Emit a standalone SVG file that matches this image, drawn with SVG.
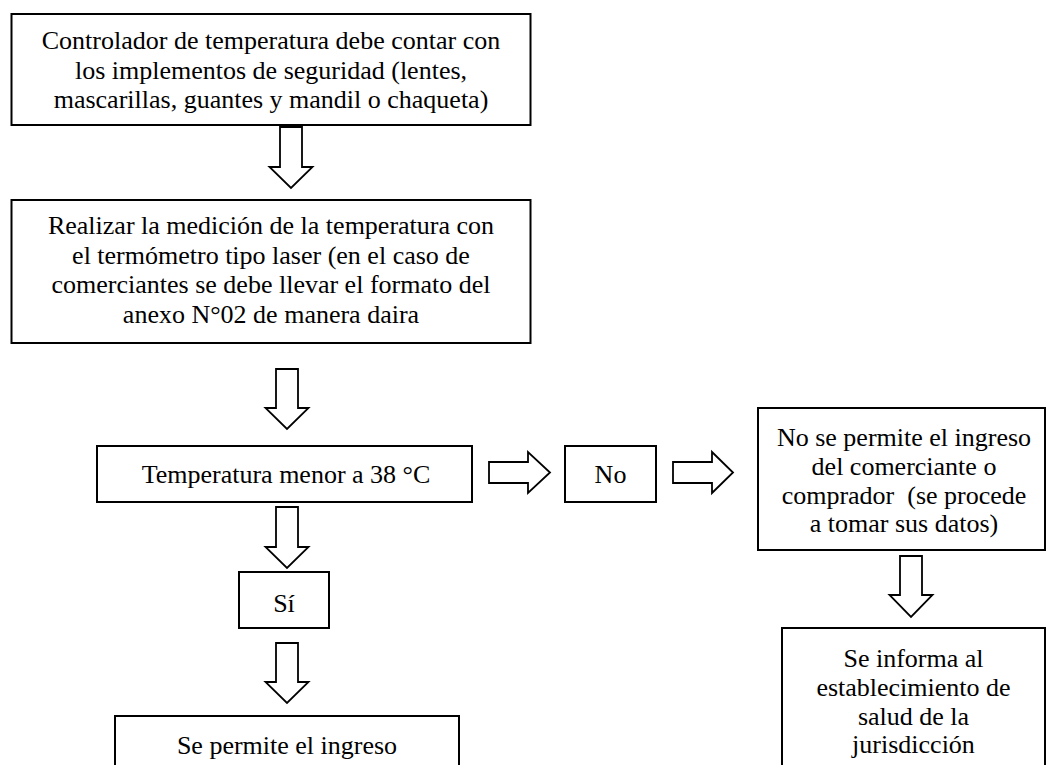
<svg xmlns="http://www.w3.org/2000/svg" width="1047" height="765" viewBox="0 0 1047 765">
  <style>
    .box { fill: #ffffff; stroke: #000000; stroke-width: 2; }
    .arr { fill: #ffffff; stroke: #000000; stroke-width: 1.8; stroke-linejoin: miter; }
    .t { font-family: "Liberation Serif", "Times New Roman", serif; font-size: 26px; fill: #000000; text-anchor: middle; }
  </style>
  <rect width="1047" height="765" fill="#ffffff"/>

  <g id="connectors">
    <polygon class="arr" points="280,127 302,127 302,167 312.5,167 291,188 269.5,167 280,167"/>
    <polygon class="arr" points="276,369 298,369 298,408 308.5,408 287,429 265.5,408 276,408"/>
    <polygon class="arr" points="276,507 298,507 298,547 308.5,547 287,568 265.5,547 276,547"/>
    <polygon class="arr" points="276,643 298,643 298,682 308.5,682 287,703 265.5,682 276,682"/>
    <polygon class="arr" points="900,556 922,556 922,595 932.5,595 911,617 889.5,595 900,595"/>
    <polygon class="arr" points="489,462 528,462 528,452 550,472.5 528,493 528,483 489,483"/>
    <polygon class="arr" points="673,462 712,462 712,452 733,472.5 712,493 712,483 673,483"/>
  </g>

  <g id="n1">
    <rect class="box" x="11.5" y="14" width="519" height="111"/>
    <text class="t" x="271" y="49">Controlador de temperatura debe contar con</text>
    <text class="t" x="271" y="78.5">los implementos de seguridad (lentes,</text>
    <text class="t" x="271" y="108">mascarillas, guantes y mandil o chaqueta)</text>
  </g>

  <g id="n2">
    <rect class="box" x="11.5" y="200" width="519" height="143"/>
    <text class="t" x="271" y="234">Realizar la medición de la temperatura con</text>
    <text class="t" x="271" y="264">el termómetro tipo laser (en el caso de</text>
    <text class="t" x="271" y="293">comerciantes se debe llevar el formato del</text>
    <text class="t" x="271" y="323">anexo N°02 de manera daira</text>
  </g>

  <g id="n3">
    <rect class="box" x="97" y="446" width="375" height="56"/>
    <text class="t" x="286" y="483">Temperatura menor a 38 °C</text>
  </g>

  <g id="n4">
    <rect class="box" x="565" y="446" width="91" height="56"/>
    <text class="t" x="610.5" y="483">No</text>
  </g>

  <g id="n5">
    <rect class="box" x="758" y="408" width="287" height="142"/>
    <text class="t" x="904" y="446">No se permite el ingreso</text>
    <text class="t" x="904" y="475">del comerciante o</text>
    <text class="t" x="904" y="504" xml:space="preserve">comprador  (se procede</text>
    <text class="t" x="904" y="532">a tomar sus datos)</text>
  </g>

  <g id="n6">
    <rect class="box" x="239" y="572" width="90" height="56"/>
    <text class="t" x="284" y="612">Sí</text>
  </g>

  <g id="n7">
    <rect class="box" x="782" y="628" width="263" height="150"/>
    <text class="t" x="913.5" y="667">Se informa al</text>
    <text class="t" x="913.5" y="696">establecimiento de</text>
    <text class="t" x="913.5" y="725">salud de la</text>
    <text class="t" x="913.5" y="753">jurisdicción</text>
  </g>

  <g id="n8">
    <rect class="box" x="115" y="716" width="344" height="62"/>
    <text class="t" x="287" y="754">Se permite el ingreso</text>
  </g>
</svg>
